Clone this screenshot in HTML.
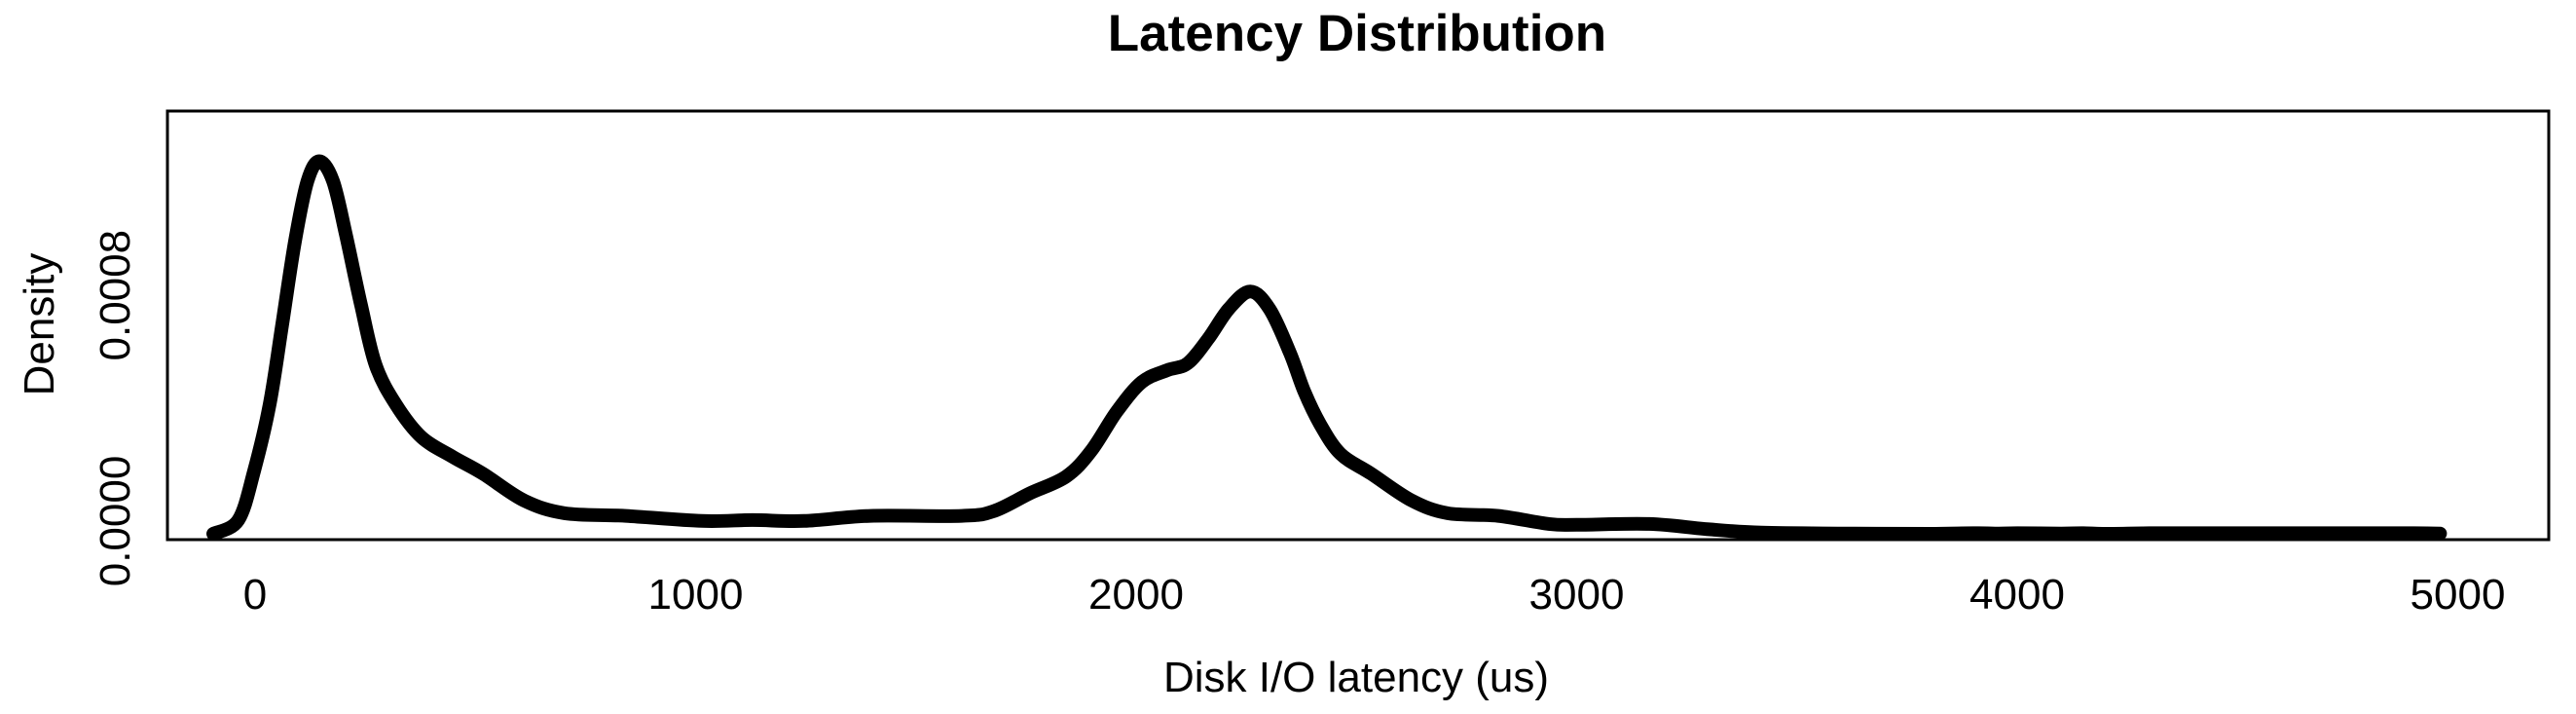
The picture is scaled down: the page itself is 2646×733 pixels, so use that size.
<!DOCTYPE html>
<html>
<head>
<meta charset="utf-8">
<style>
  html, body { margin: 0; padding: 0; background: #fff; }
  svg { display: block; }
  text { font-family: "Liberation Sans", Arial, sans-serif; fill: #000; }
</style>
</head>
<body>
<svg id="chart" width="2646" height="733" viewBox="0 0 2646 733" xmlns="http://www.w3.org/2000/svg">
  <text x="1394" y="52" font-size="53" font-weight="bold" text-anchor="middle">Latency Distribution</text>
  <rect x="172" y="114" width="2446" height="440" fill="none" stroke="#000" stroke-width="3"/>
  <g id="xticks"></g>
  <g id="yticks"></g>
  <text x="1393" y="710" font-size="44" text-anchor="middle">Disk I/O latency (us)</text>
  <text x="0" y="0" font-size="44" text-anchor="middle" transform="translate(55,333) rotate(-90)">Density</text>
  <path id="curve" fill="none" stroke="#000" stroke-width="14" stroke-linejoin="round" stroke-linecap="round"/>
</svg>
<script>
// Data (latency in us, density in units of 1e-4)
const latencyValues = [-95,-38,-2,33,62,91,119,146,177,206,241,274,320,378,449,517,610,703,842,1014,1129,1246,1397,1604,1677,1759,1841,1898,1956,2013,2071,2117,2164,2210,2259,2303,2349,2382,2418,2464,2533,2625,2707,2822,2937,3000,3165,3300,3420,3600,3800,3900,3950,4000,4100,4150,4200,4300,4400,4500,4600,4700,4800,4900,4960];
const densityValues = [0,0.46,2.12,4.33,7.07,9.85,11.83,12.5,11.83,10.05,7.64,5.65,4.33,3.24,2.58,2.02,1.12,0.69,0.6,0.43,0.46,0.43,0.6,0.6,0.76,1.36,1.92,2.78,4.1,5.09,5.49,5.72,6.55,7.54,8.13,7.54,6.08,4.76,3.67,2.68,2.02,1.12,0.69,0.6,0.33,0.3,0.33,0.15,0.04,0.01,0,0.02,0.01,0.02,0.01,0.02,0,0.02,0.02,0.02,0.02,0.02,0.02,0.02,0.01];
const xTickValues = [0,1000,2000,3000,4000,5000];
const yTickValues = [0,8];
const yTickLabels = ["0.0000","0.0008"];

function xScale(v){ return 262 + v * 0.4525; }
function yScale(d){ return 548 - d * 30.6; }

const NS = "http://www.w3.org/2000/svg";
const xg = document.getElementById('xticks');
xTickValues.forEach(v => {
  const t = document.createElementNS(NS,'text');
  
  
  t.setAttribute('x', xScale(v));
  t.setAttribute('y', 625);
  t.setAttribute('font-size', 44);
  t.setAttribute('text-anchor', 'middle');
  t.textContent = String(v);
  xg.appendChild(t);
});
const yg = document.getElementById('yticks');
yTickValues.forEach((v, i) => {
  const t = document.createElementNS(NS,'text');
  
  
  t.setAttribute('font-size', 44);
  t.setAttribute('text-anchor', 'middle');
  t.setAttribute('transform', 'translate(133,' + (yScale(v) - (v === 0 ? 13 : 0)) + ') rotate(-90)');
  t.textContent = yTickLabels[i];
  yg.appendChild(t);
});

// Smooth path (Catmull-Rom -> Bezier)
const pts = latencyValues.map((v, i) => [xScale(v), yScale(densityValues[i])]);
let d = 'M' + pts[0][0] + ',' + pts[0][1];
for (let i = 0; i < pts.length - 1; i++) {
  const p0 = pts[Math.max(0, i - 1)], p1 = pts[i], p2 = pts[i + 1], p3 = pts[Math.min(pts.length - 1, i + 2)];
  const c1x = p1[0] + (p2[0] - p0[0]) / 6, c1y = p1[1] + (p2[1] - p0[1]) / 6;
  const c2x = p2[0] - (p3[0] - p1[0]) / 6, c2y = p2[1] - (p3[1] - p1[1]) / 6;
  d += ' C' + c1x.toFixed(1) + ',' + c1y.toFixed(1) + ' ' + c2x.toFixed(1) + ',' + c2y.toFixed(1) + ' ' + p2[0].toFixed(1) + ',' + p2[1].toFixed(1);
}
document.getElementById('curve').setAttribute('d', d);
</script>
</body>
</html>
